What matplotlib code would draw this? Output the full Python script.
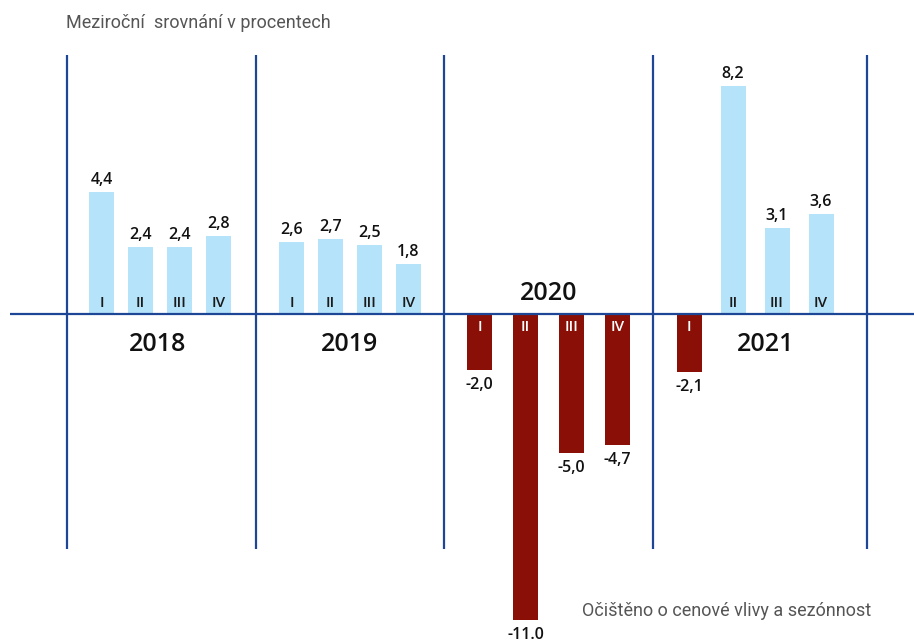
import matplotlib
matplotlib.use("Agg")
import matplotlib.pyplot as plt

# ---- data ----
years = ["2018", "2019", "2020", "2021"]
quarters = ["I", "II", "III", "IV"]
v2018 = [4.4, 2.4, 2.4, 2.8]
v2019 = [2.6, 2.7, 2.5, 1.8]
v2020 = [-2.0, -11.0, -5.0, -4.7]
v2021 = [-2.1, 8.2, 3.1, 3.6]
labels2018 = ["4,4", "2,4", "2,4", "2,8"]
labels2019 = ["2,6", "2,7", "2,5", "1,8"]
labels2020 = ["-2,0", "-11.0", "-5,0", "-4,7"]
labels2021 = ["-2,1", "8,2", "3,1", "3,6"]
title = "Meziroční  srovnání v procentech"
note = "Očištěno o cenové vlivy a sezónnost"

series = [v2018, v2019, v2020, v2021]
labels = [labels2018, labels2019, labels2020, labels2021]

# ---- layout (pixels) ----
W, H = 914, 643
ZERO_PX = 314
PX_PER_UNIT = 27.8
boundaries = [67, 256, 444, 653, 867]
group_centers = [160, 350, 548.5, 755]
group_spacing = [39, 39, 46, 44]
bar_w = 25
LINE_C = "#1d4696"
POS_C = "#b5e3f9"
NEG_C = "#8a0f06"

def py(y_px):
    return (ZERO_PX - y_px) / PX_PER_UNIT

fig = plt.figure(figsize=(W / 100, H / 100), dpi=100)
ax = fig.add_axes([0, 0, 1, 1])
ax.set_xlim(0, W)
ax.set_ylim(py(H), py(0))
ax.axis("off")

num_font = "Open Sans"

for g, (vals, labs) in enumerate(zip(series, labels)):
    for q, (v, lab) in enumerate(zip(vals, labs)):
        x = group_centers[g] + (q - 1.5) * group_spacing[g]
        pos = v >= 0
        ax.bar(x, v, width=bar_w, color=POS_C if pos else NEG_C, zorder=2)
        if pos:
            ax.text(x, v + 4 / PX_PER_UNIT, lab, ha="center", va="bottom",
                    fontsize=11.5, fontweight="semibold", family=num_font,
                    color="#111111", zorder=4)
            ax.text(x, py(303), quarters[q], ha="center", va="center",
                    fontsize=11, fontweight="semibold", family=num_font,
                    color="#1a1a1a", zorder=4)
        else:
            ax.text(x, v - 7 / PX_PER_UNIT, lab, ha="center", va="top",
                    fontsize=11.5, fontweight="semibold", family=num_font,
                    color="#111111", zorder=4)
            ax.text(x, py(327), quarters[q], ha="center", va="center",
                    fontsize=11, fontweight="semibold", family=num_font,
                    color="white", zorder=4)

# year labels
year_y = [344, 344, 293, 344]
year_x = [158, 350, 549, 766]
for yr, xx, yy in zip(years, year_x, year_y):
    ax.text(xx, py(yy), yr, ha="center", va="center", fontsize=18,
            fontweight="semibold", family=num_font, color="#111111", zorder=4)

# grid lines
ax.plot([10, W], [0, 0], color=LINE_C, lw=1.6, zorder=3, solid_capstyle="butt")
for b in boundaries:
    ax.plot([b, b], [py(55), py(549)], color=LINE_C, lw=1.6, zorder=3,
            solid_capstyle="butt")

ax.text(66, py(23), title, ha="left", va="center", fontsize=13,
        family="Roboto", color="#555555")
ax.text(871, py(611), note, ha="right", va="center", fontsize=13,
        family="Roboto", color="#555555")

fig.savefig("out.png", dpi=100)
